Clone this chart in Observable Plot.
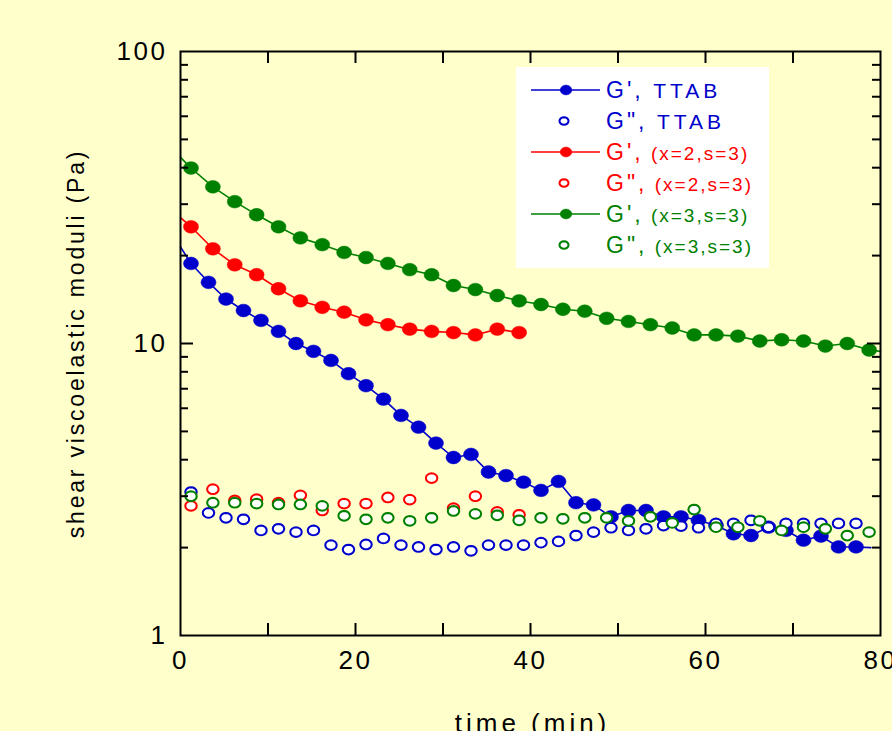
<!DOCTYPE html>
<html>
<head>
<meta charset="utf-8">
<script src="https://cdn.jsdelivr.net/npm/d3@7"></script>
<script src="https://cdn.jsdelivr.net/npm/@observablehq/plot@0.6"></script>
<style>
  html, body { margin: 0; padding: 0; background: #ffffcc; }
  #chart { width: 892px; height: 731px; overflow: hidden; }
</style>
</head>
<body>
<div id="chart"></div>
<script>
// Sampling times (min)
const tTtab = [1.2, 3.2, 5.2, 7.2, 9.2, 11.2, 13.2, 15.2, 17.2, 19.2, 21.2, 23.2, 25.2, 27.2, 29.2,
  31.2, 33.2, 35.2, 37.2, 39.2, 41.2, 43.2, 45.2, 47.2, 49.2, 51.2, 53.2, 55.2, 57.2, 59.2,
  61.2, 63.2, 65.2, 67.2, 69.2, 71.2, 73.2, 75.2, 77.2];
const tX2 = [1.2, 3.7, 6.2, 8.7, 11.2, 13.7, 16.2, 18.7, 21.2, 23.7, 26.2, 28.7, 31.2, 33.7, 36.2, 38.7];
const tX3 = [1.2, 3.7, 6.2, 8.7, 11.2, 13.7, 16.2, 18.7, 21.2, 23.7, 26.2, 28.7, 31.2, 33.7, 36.2, 38.7,
  41.2, 43.7, 46.2, 48.7, 51.2, 53.7, 56.2, 58.7, 61.2, 63.7, 66.2, 68.7, 71.2, 73.7, 76.2, 78.7];

// Storage modulus G' (Pa)
const gpTtab = [18.8, 16.2, 14.2, 12.97, 12.0, 11.0, 10.0, 9.4, 8.75, 7.88, 7.17, 6.45, 5.67, 5.17, 4.56,
  4.07, 4.17, 3.63, 3.53, 3.35, 3.14, 3.37, 2.85, 2.80, 2.55, 2.68, 2.68, 2.55, 2.55, 2.48,
  2.38, 2.23, 2.20, 2.35, 2.29, 2.12, 2.19, 2.01, 2.01];
const gpX2 = [25.1, 21.1, 18.6, 17.2, 15.4, 14.0, 13.3, 12.8, 12.05, 11.6, 11.2, 11.0, 10.9, 10.7, 11.2, 10.9];
const gpX3 = [39.9, 34.4, 30.6, 27.6, 25.1, 23.0, 21.8, 20.5, 19.7, 18.8, 17.9, 17.2, 15.8, 15.3, 14.6, 14.0,
  13.6, 13.1, 12.9, 12.2, 11.9, 11.6, 11.3, 10.7, 10.7, 10.6, 10.2, 10.3, 10.2, 9.8, 10.0, 9.5];

// Loss modulus G'' (Pa)
const gppTtab = [3.10, 2.63, 2.53, 2.50, 2.29, 2.32, 2.26, 2.29, 2.04, 1.97, 2.05, 2.15, 2.04, 2.01, 1.97,
  2.01, 1.95, 2.04, 2.04, 2.04, 2.08, 2.10, 2.20, 2.26, 2.34, 2.29, 2.32, 2.38, 2.37, 2.34,
  2.42, 2.42, 2.48, 2.35, 2.42, 2.42, 2.42, 2.42, 2.42];
const gppX2 = [2.78, 3.17, 2.90, 2.93, 2.85, 3.02, 2.68, 2.83, 2.83, 2.97, 2.92, 3.46, 2.73, 3.00, 2.65, 2.59];
const gppX3 = [3.00, 2.85, 2.85, 2.83, 2.81, 2.81, 2.78, 2.57, 2.50, 2.53, 2.47, 2.53, 2.67, 2.61, 2.58, 2.48,
  2.53, 2.51, 2.53, 2.53, 2.47, 2.55, 2.43, 2.70, 2.35, 2.35, 2.47, 2.29, 2.35, 2.32, 2.20, 2.26];

// G' curves continue beyond the plotted symbols: [time, value] at the ends of each trace
const lineStart = { ttab: [0, 21.4], x2: [0, 27.0], x3: [0, 43.4] };
const lineEnd = { ttab: [78.9, 2.0], x2: null, x3: [80, 9.4] };

// Series names and colours
const seriesKeys = ["ttab", "x2", "x3"];
const seriesColors = ["#0000cc", "#ff0000", "#008000"];
const seriesTags = ["TTAB", "(x=2,s=3)", "(x=3,s=3)"];

// Axis ticks
const yLabelTicks = [1, 10, 100];
const yMinorTicks = [2, 3, 4, 5, 6, 7, 8, 9, 20, 30, 40, 50, 60, 70, 80, 90];
const yMajorTicks = [10];
const xLabelTicks = [0, 20, 40, 60, 80];
const xInnerTicks = [10, 20, 30, 40, 50, 60, 70];

const xTitle = "time (min)";
const yTitle = "shear viscoelastic moduli (Pa)";

const W = 892, H = 731;
const mL = 180, mR = 12, mT = 51, mB = 96;
const plotW = W - mL - mR, plotH = H - mT - mB;
const FONT = "'Liberation Sans', Arial, Helvetica, sans-serif";

// Slightly flattened round marker
function oval(sx, sy) {
  return {
    draw(context, size) {
      const r = Math.sqrt(size / Math.PI);
      const n = 16;
      for (let i = 0; i < n; ++i) {
        const a = (2 * Math.PI * i) / n;
        const px = r * sx * Math.cos(a), py = r * sy * Math.sin(a);
        if (i === 0) context.moveTo(px, py); else context.lineTo(px, py);
      }
      context.closePath();
    }
  };
}
const markerShape = oval(1.06, 0.9);

const times = { ttab: tTtab, x2: tX2, x3: tX3 };
const gp = { ttab: gpTtab, x2: gpX2, x3: gpX3 };
const gpp = { ttab: gppTtab, x2: gppX2, x3: gppX3 };

const rows = (t, v) => t.map((ti, i) => ({ t: ti, v: v[i] }));

const dataMarks = [];
seriesKeys.forEach((k, si) => {
  const color = seriesColors[si];
  const pts = rows(times[k], gp[k]);
  const trace = [{ t: lineStart[k][0], v: lineStart[k][1] }, ...pts];
  if (lineEnd[k]) trace.push({ t: lineEnd[k][0], v: lineEnd[k][1] });
  dataMarks.push(Plot.line(trace, { x: "t", y: "v", stroke: color, strokeWidth: 1.6 }));
  dataMarks.push(Plot.dot(pts, { x: "t", y: "v", r: 7.1, symbol: markerShape, fill: color, stroke: color, strokeWidth: 0.5 }));
  dataMarks.push(Plot.dot(rows(times[k], gpp[k]), { x: "t", y: "v", r: 5.4, symbol: markerShape, fill: "white", stroke: color, strokeWidth: 2 }));
});

const chart = Plot.plot({
  width: W,
  height: H,
  marginLeft: mL,
  marginRight: mR,
  marginTop: mT,
  marginBottom: mB,
  style: { background: "#ffffcc", fontFamily: FONT, color: "black", overflow: "hidden" },
  x: { domain: [0, 80], axis: null },
  y: { type: "log", domain: [1, 100], axis: null },
  marks: [
    ...dataMarks,
    // inward tick marks on all four sides
    Plot.ruleY(yMinorTicks, { y: d => d, insetRight: plotW - 8, stroke: "black", strokeWidth: 2 }),
    Plot.ruleY(yMajorTicks, { y: d => d, insetRight: plotW - 13, stroke: "black", strokeWidth: 2 }),
    Plot.ruleY(yMinorTicks, { y: d => d, insetLeft: plotW - 8, stroke: "black", strokeWidth: 2 }),
    Plot.ruleY(yMajorTicks, { y: d => d, insetLeft: plotW - 13, stroke: "black", strokeWidth: 2 }),
    Plot.ruleX(xInnerTicks, { x: d => d, insetTop: plotH - 12, stroke: "black", strokeWidth: 2 }),
    Plot.ruleX(xInnerTicks, { x: d => d, insetBottom: plotH - 12, stroke: "black", strokeWidth: 2 }),
    Plot.frame({ stroke: "black", strokeWidth: 2 }),
    Plot.axisY({ ticks: yLabelTicks, tickSize: 0, tickPadding: 13, tickFormat: d => String(d), fontSize: 26, label: null }),
    Plot.axisX({ ticks: xLabelTicks, tickSize: 0, tickPadding: 15, tickFormat: d => String(d), fontSize: 26, label: null }),
    Plot.text([xTitle], { text: d => d, frameAnchor: "bottom", lineAnchor: "bottom", dy: 96, dx: 2, fontSize: 26 }),
    Plot.text([yTitle], { text: d => d, frameAnchor: "left", textAnchor: "middle", lineAnchor: "bottom", rotate: -90, dx: -97, fontSize: 23 })
  ]
});

const svg = d3.select(chart);
// letter spacing for the axis texts
svg.selectAll('g[aria-label="y-axis tick label"] text, g[aria-label="x-axis tick label"] text')
  .attr("letter-spacing", "2.5px");
svg.selectAll("text").filter(function () { return this.textContent === xTitle; }).attr("letter-spacing", "4px");
svg.selectAll("text").filter(function () { return this.textContent === yTitle; }).attr("letter-spacing", "2.8px");

// Legend box
const legend = svg.append("g").attr("aria-label", "legend").attr("font-family", FONT).attr("text-anchor", "start");
legend.append("rect").attr("x", 516).attr("y", 67).attr("width", 253).attr("height", 201).attr("fill", "white");
const entries = [];
seriesKeys.forEach((k, si) => {
  entries.push({ color: seriesColors[si], filled: true, head: "G',", tag: seriesTags[si] });
  entries.push({ color: seriesColors[si], filled: false, head: "G\",", tag: seriesTags[si] });
});
const shapePath = d3.path();
markerShape.draw(shapePath, 30 * Math.PI);
const shapeOpen = d3.path();
markerShape.draw(shapeOpen, 18 * Math.PI);
entries.forEach((e, i) => {
  const cy = 90 + i * 31;
  const g = legend.append("g");
  if (e.filled) {
    g.append("line").attr("x1", 531).attr("x2", 600).attr("y1", cy).attr("y2", cy)
      .attr("stroke", e.color).attr("stroke-width", 1.6);
    g.append("path").attr("d", shapePath.toString()).attr("transform", `translate(566,${cy})`)
      .attr("fill", e.color).attr("stroke", e.color).attr("stroke-width", 0.5);
  } else {
    g.append("path").attr("d", shapeOpen.toString()).attr("transform", `translate(564,${cy})`)
      .attr("fill", "white").attr("stroke", e.color).attr("stroke-width", 2);
  }
  const tx = g.append("text").attr("x", 606).attr("y", cy + 8).attr("fill", e.color).attr("text-anchor", "start");
  tx.append("tspan").attr("font-size", 23).attr("letter-spacing", "3px").text(e.head);
  tx.append("tspan").attr("font-size", e.tag === "TTAB" ? 21 : 19)
    .attr("letter-spacing", e.tag === "TTAB" ? "4px" : "2px").text(" " + e.tag);
});

document.getElementById("chart").appendChild(chart);
</script>
</body>
</html>
